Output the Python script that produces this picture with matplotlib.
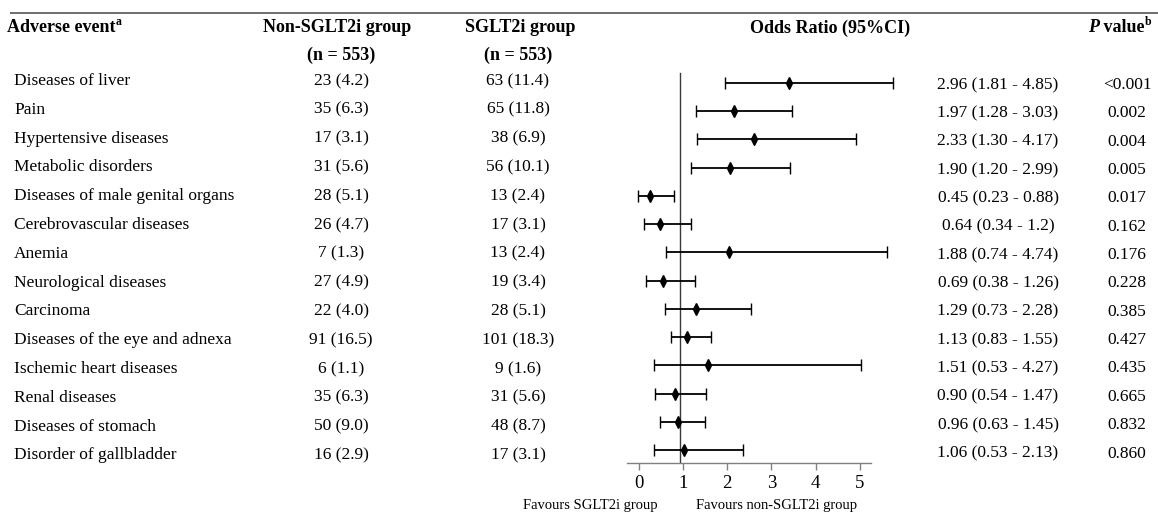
import matplotlib
matplotlib.use("Agg")
import matplotlib.pyplot as plt

plt.rcParams['font.family'] = ['Liberation Serif', 'DejaVu Serif']

# ---------------- data ----------------
events = ["Diseases of liver", "Pain", "Hypertensive diseases", "Metabolic disorders",
          "Diseases of male genital organs", "Cerebrovascular diseases", "Anemia",
          "Neurological diseases", "Carcinoma", "Diseases of the eye and adnexa",
          "Ischemic heart diseases", "Renal diseases", "Diseases of stomach",
          "Disorder of gallbladder"]
non_sglt2i = ["23 (4.2)", "35 (6.3)", "17 (3.1)", "31 (5.6)", "28 (5.1)", "26 (4.7)", "7 (1.3)",
              "27 (4.9)", "22 (4.0)", "91 (16.5)", "6 (1.1)", "35 (6.3)", "50 (9.0)", "16 (2.9)"]
sglt2i = ["63 (11.4)", "65 (11.8)", "38 (6.9)", "56 (10.1)", "13 (2.4)", "17 (3.1)", "13 (2.4)",
          "19 (3.4)", "28 (5.1)", "101 (18.3)", "9 (1.6)", "31 (5.6)", "48 (8.7)", "17 (3.1)"]
or_val = [2.96, 1.97, 2.33, 1.90, 0.45, 0.64, 1.88, 0.69, 1.29, 1.13, 1.51, 0.90, 0.96, 1.06]
ci_low = [1.81, 1.28, 1.30, 1.20, 0.23, 0.34, 0.74, 0.38, 0.73, 0.83, 0.53, 0.54, 0.63, 0.53]
ci_high = [4.85, 3.03, 4.17, 2.99, 0.88, 1.2, 4.74, 1.26, 2.28, 1.55, 4.27, 1.47, 1.45, 2.13]
or_text = ["2.96 (1.81 - 4.85)", "1.97 (1.28 - 3.03)", "2.33 (1.30 - 4.17)", "1.90 (1.20 - 2.99)",
           "0.45 (0.23 - 0.88)", "0.64 (0.34 - 1.2)", "1.88 (0.74 - 4.74)", "0.69 (0.38 - 1.26)",
           "1.29 (0.73 - 2.28)", "1.13 (0.83 - 1.55)", "1.51 (0.53 - 4.27)", "0.90 (0.54 - 1.47)",
           "0.96 (0.63 - 1.45)", "1.06 (0.53 - 2.13)"]
p_values = ["<0.001", "0.002", "0.004", "0.005", "0.017", "0.162", "0.176", "0.228", "0.385",
            "0.427", "0.435", "0.665", "0.832", "0.860"]
axis_ticks = [0, 1, 2, 3, 4, 5]

# ---------------- layout (pixels) ----------------
W, H = 1158, 514
FS = 12.5
HFS = 13
ROW0, ROWH = 81.0, 28.8          # left text rows
R_ROW0, R_ROWH = 85.0, 28.35     # right text rows
F_ROW0, F_ROWH = 83.0, 28.23     # forest rows
X_LABEL, X_NON, X_SG, X_OR, X_P = 14, 341, 518, 998, 1127

fig = plt.figure(figsize=(W / 100, H / 100), dpi=100)

at = fig.add_axes([0, 0, 1, 1])
at.set_xlim(0, W)
at.set_ylim(H, 0)
at.axis('off')

at.plot([10, W], [13, 13], color='#6e6e6e', lw=1.4, solid_capstyle='butt')

hy, hy2 = 28, 55
t = at.text(7, hy, "Adverse event", fontsize=HFS, fontweight='bold', ha='left', va='center')
at.annotate("a", xy=(1, 0.5), xycoords=t, fontsize=8.5, fontweight='bold', ha='left', va='bottom')
at.text(337, hy, "Non-SGLT2i group", fontsize=HFS, fontweight='bold', ha='center', va='center')
at.text(X_NON, hy2, "(n = 553)", fontsize=HFS, fontweight='bold', ha='center', va='center')
at.text(520, hy, "SGLT2i group", fontsize=HFS, fontweight='bold', ha='center', va='center')
at.text(X_SG, hy2, "(n = 553)", fontsize=HFS, fontweight='bold', ha='center', va='center')
at.text(830, hy, "Odds Ratio (95%CI)", fontsize=HFS, fontweight='bold', ha='center', va='center')
tp = at.text(1088, hy, "P", fontsize=HFS, fontweight='bold', fontstyle='italic', ha='left', va='center')
tv = at.annotate(" value", xy=(1, 0), xycoords=tp, fontsize=HFS, fontweight='bold', ha='left', va='bottom')
at.annotate("b", xy=(1, 0.5), xycoords=tv, fontsize=8.5, fontweight='bold', ha='left', va='bottom')

for i, ev in enumerate(events):
    y = ROW0 + i * ROWH
    yr = R_ROW0 + i * R_ROWH
    at.text(X_LABEL, y, ev, fontsize=FS, ha='left', va='center')
    at.text(X_NON, y, non_sglt2i[i], fontsize=FS, ha='center', va='center')
    at.text(X_SG, y, sglt2i[i], fontsize=FS, ha='center', va='center')
    at.text(X_OR, yr, or_text[i], fontsize=FS, ha='center', va='center')
    at.text(X_P, yr, p_values[i], fontsize=FS, ha='center', va='center')

at.text(590, 505, "Favours SGLT2i group", fontsize=10.5, ha='center', va='center')
at.text(777, 505, "Favours non-SGLT2i group", fontsize=10.5, ha='center', va='center')

# ---------------- forest axes ----------------
X1_PX, PX_UNIT = 680.2, 55.3
fx0, fx1 = 600, 910
fy_top, fy_bot = 65, 463
af = fig.add_axes([fx0 / W, 1 - fy_bot / H, (fx1 - fx0) / W, (fy_bot - fy_top) / H])
af.patch.set_alpha(0)
af.set_xlim(1 + (fx0 - X1_PX) / PX_UNIT, 1 + (fx1 - X1_PX) / PX_UNIT)
af.set_ylim((fy_bot - F_ROW0) / F_ROWH, (fy_top - F_ROW0) / F_ROWH)
af.axis('off')
af.axvline(1, ymin=0, ymax=(fy_bot - 73) / (fy_bot - fy_top), color='#3a3a3a', lw=1.0)

rows = list(range(len(events)))
xerr = [[o - l for o, l in zip(or_val, ci_low)], [h - o for o, h in zip(or_val, ci_high)]]
af.errorbar(or_val, rows, xerr=xerr, fmt='none', ecolor='black', elinewidth=1.3,
            capsize=4.5, capthick=1.0)
af.plot(or_val, rows, linestyle='none', marker='d', markersize=5.8, color='black')

# ---------------- scale axis ----------------
sx0, sx1 = 627, 871
X0_PX, S_UNIT = 638.5, 44.3
asx = fig.add_axes([sx0 / W, 1 - fy_bot / H, (sx1 - sx0) / W, 0.001])
asx.patch.set_alpha(0)
asx.set_xlim((sx0 - X0_PX) / S_UNIT, (sx1 - X0_PX) / S_UNIT)
for s in ['top', 'left', 'right']:
    asx.spines[s].set_visible(False)
asx.spines['bottom'].set_color('#808080')
asx.spines['bottom'].set_linewidth(1.0)
asx.set_yticks([])
asx.set_xticks(axis_ticks)
asx.set_xticklabels([str(v) for v in axis_ticks], fontsize=13.5)
asx.tick_params(axis='x', direction='out', length=5, width=1, color='#808080', pad=4)

fig.savefig("out.png", dpi=100)
